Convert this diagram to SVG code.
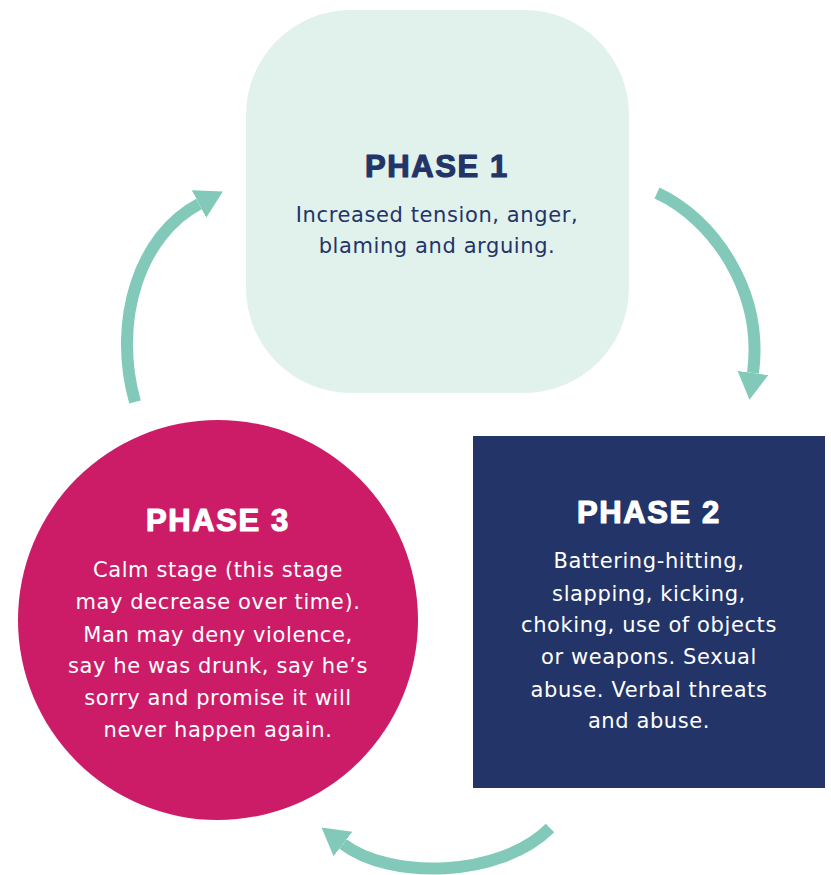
<svg xmlns="http://www.w3.org/2000/svg" width="831" height="875" viewBox="0 0 831 875">
<style>
.title{font-family:"Liberation Sans",Arial,sans-serif;font-weight:900;font-size:31px;letter-spacing:1.6px;text-anchor:middle;stroke-width:1.2px;stroke-linejoin:round}
.body{font-family:"DejaVu Sans","Liberation Sans",sans-serif;font-size:21px;letter-spacing:0.6px;text-anchor:middle}
.navy{fill:#233469}
.title.navy{stroke:#233469}
.white{fill:#ffffff}
.title.white{stroke:#ffffff}
.arrow{fill:none;stroke:#82c9ba;stroke-width:12;marker-end:url(#head)}
</style>
<defs>
<marker id="head" markerUnits="userSpaceOnUse" markerWidth="30" markerHeight="34" refX="0" refY="16" orient="auto" viewBox="0 0 30 32">
<path d="M0,0.5 L27,16 L0,31.5 Z" fill="#82c9ba"/>
</marker>
</defs>
<rect width="831" height="875" fill="#ffffff"/>
<g id="connectors">
<path class="arrow" d="M657,193 C712,218 764,290 753,373"/>
<path class="arrow" d="M135,402 C112,320 140,235 199,204"/>
<path class="arrow" d="M550,828 C500,878 390,880 343,844"/>
</g>
<g id="phase1">
<rect x="246" y="10" width="383" height="383" rx="105" ry="105" fill="#e1f1ec"/>
<text class="title navy" x="437" y="177">PHASE 1</text>
<text class="body navy" x="437" y="222">Increased tension, anger,</text>
<text class="body navy" x="437" y="253">blaming and arguing.</text>
</g>
<g id="phase2">
<rect x="473" y="436" width="352" height="352" fill="#233469"/>
<text class="title white" x="649" y="523">PHASE 2</text>
<text class="body white" x="649" y="568">Battering-hitting,</text>
<text class="body white" x="649" y="601">slapping, kicking,</text>
<text class="body white" x="649" y="632">choking, use of objects</text>
<text class="body white" x="649" y="664">or weapons. Sexual</text>
<text class="body white" x="649" y="697">abuse. Verbal threats</text>
<text class="body white" x="649" y="728">and abuse.</text>
</g>
<g id="phase3">
<circle cx="218" cy="620" r="200" fill="#cc1c68"/>
<text class="title white" x="218" y="531">PHASE 3</text>
<text class="body white" x="218" y="577">Calm stage (this stage</text>
<text class="body white" x="218" y="609">may decrease over time).</text>
<text class="body white" x="218" y="642">Man may deny violence,</text>
<text class="body white" x="218" y="673">say he was drunk, say he’s</text>
<text class="body white" x="218" y="705">sorry and promise it will</text>
<text class="body white" x="218" y="737">never happen again.</text>
</g>
</svg>
